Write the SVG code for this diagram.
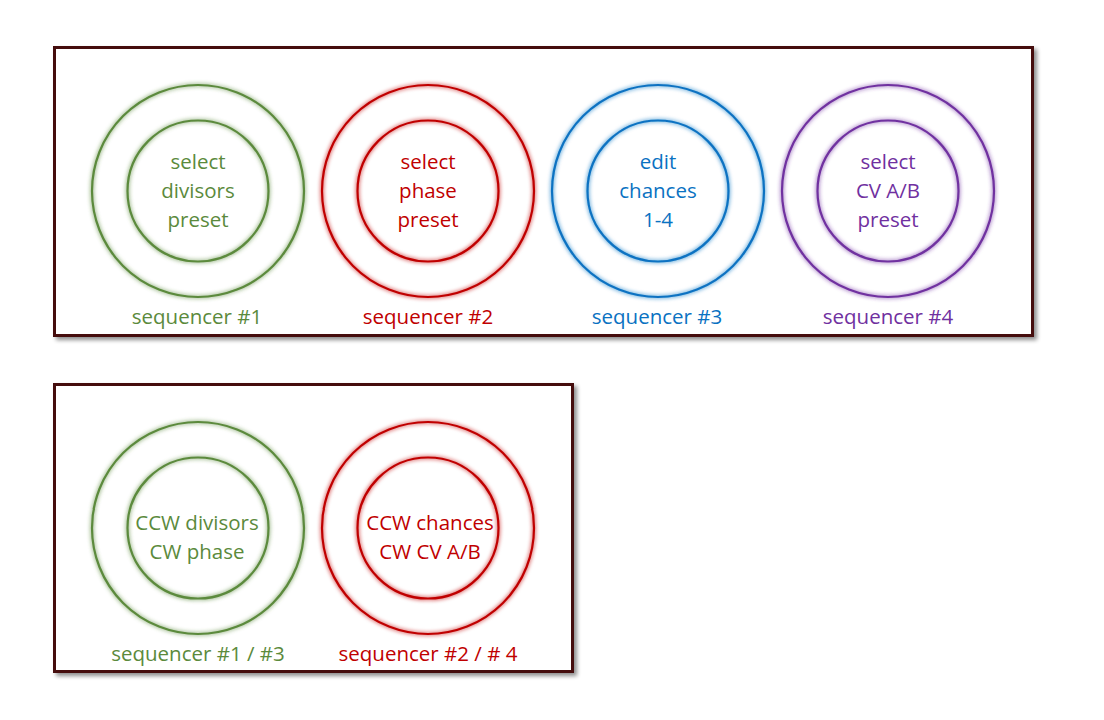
<svg xmlns="http://www.w3.org/2000/svg" width="1104" height="720" viewBox="0 0 1104 720">
<defs>
<filter id="shadow" x="-5%" y="-5%" width="110%" height="115%">
<feGaussianBlur in="SourceAlpha" stdDeviation="2"/>
<feOffset dx="3" dy="3" result="b"/>
<feComponentTransfer><feFuncA type="linear" slope="0.45"/></feComponentTransfer>
<feMerge><feMergeNode/><feMergeNode in="SourceGraphic"/></feMerge>
</filter>
<filter id="glow" x="-10%" y="-10%" width="120%" height="120%">
<feGaussianBlur in="SourceGraphic" stdDeviation="2" result="g"/>
<feMerge><feMergeNode in="g"/><feMergeNode in="SourceGraphic"/></feMerge>
</filter>
</defs>
<style>
.box{fill:#ffffff;stroke:#450c0c;stroke-width:3}
text{font-family:"Open Sans","Liberation Sans",sans-serif;font-size:20.5px;text-anchor:middle}
.g{fill:#5b8a3c}
.r{fill:#c00000}
.b{fill:#0a72c2}
.p{fill:#7030a0}
.rg{stroke:#5b8a3c}
.rr{stroke:#c00000}
.rb{stroke:#0a72c2}
.rp{stroke:#7030a0}
circle{fill:none;stroke-width:2.2}
</style>
<rect width="1104" height="720" fill="#ffffff"/>
<g id="panel-top">
<rect class="box" x="54.5" y="47.5" width="978" height="288" filter="url(#shadow)"/>
</g>
<g id="panel-bottom">
<rect class="box" x="54.5" y="384.5" width="518" height="287" filter="url(#shadow)"/>
</g>
<g id="connectors"></g>
<g id="seq1">
<g class="rg" filter="url(#glow)"><circle cx="198" cy="191" r="106"/><circle cx="198" cy="191" r="70.5"/></g>
<text class="g" x="198" y="169">select</text>
<text class="g" x="198" y="198">divisors</text>
<text class="g" x="198" y="227">preset</text>
<text class="g" x="197" y="324">sequencer #1</text>
</g>
<g id="seq2">
<g class="rr" filter="url(#glow)"><circle cx="428" cy="191" r="106"/><circle cx="428" cy="191" r="70.5"/></g>
<text class="r" x="428" y="169">select</text>
<text class="r" x="428" y="198">phase</text>
<text class="r" x="428" y="227">preset</text>
<text class="r" x="428" y="324">sequencer #2</text>
</g>
<g id="seq3">
<g class="rb" filter="url(#glow)"><circle cx="658" cy="191" r="106"/><circle cx="658" cy="191" r="70.5"/></g>
<text class="b" x="658" y="169">edit</text>
<text class="b" x="658" y="198">chances</text>
<text class="b" x="658" y="227">1-4</text>
<text class="b" x="657" y="324">sequencer #3</text>
</g>
<g id="seq4">
<g class="rp" filter="url(#glow)"><circle cx="888" cy="191" r="106"/><circle cx="888" cy="191" r="70.5"/></g>
<text class="p" x="888" y="169">select</text>
<text class="p" x="888" y="198">CV A/B</text>
<text class="p" x="888" y="227">preset</text>
<text class="p" x="888" y="324">sequencer #4</text>
</g>
<g id="seq13">
<g class="rg" filter="url(#glow)"><circle cx="198" cy="528" r="106"/><circle cx="198" cy="528" r="70.5"/></g>
<text class="g" x="197" y="530">CCW divisors</text>
<text class="g" x="197" y="559">CW phase</text>
<text class="g" x="198" y="661">sequencer #1 / #3</text>
</g>
<g id="seq24">
<g class="rr" filter="url(#glow)"><circle cx="428" cy="528" r="106"/><circle cx="428" cy="528" r="70.5"/></g>
<text class="r" x="430" y="530">CCW chances</text>
<text class="r" x="430" y="559">CW CV A/B</text>
<text class="r" x="428" y="661">sequencer #2 / # 4</text>
</g>
</svg>
